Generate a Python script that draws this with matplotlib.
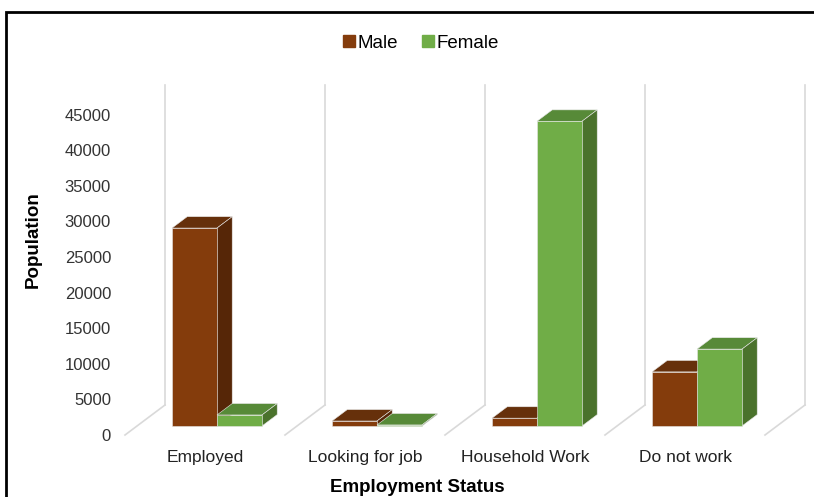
import matplotlib
matplotlib.use("Agg")
import matplotlib.pyplot as plt
from matplotlib.patches import Polygon, Rectangle
from matplotlib.lines import Line2D

plt.rcParams['font.family'] = ['Liberation Sans', 'DejaVu Sans']

# data
categories = ['Employed', 'Looking for job', 'Household Work', 'Do not work']
male = [27800, 700, 1100, 7600]
female = [1550, 150, 42800, 10800]
series_names = ['Male', 'Female']
yticks = list(range(0, 45001, 5000))

# colours: front, top, side
male_col = ('#843C0C', '#66300B', '#562607')
female_col = ('#70AD47', '#578A38', '#4A722C')
grid_col = '#D9D9D9'

# fake 3d: full floor depth in data units
DX = 0.25
DY = 4213
d0 = 0.3     # depth of bar front face
bd = 0.38    # bar depth
group_w = 0.5625
bar_w = group_w / 2

fig = plt.figure(figsize=(8.14, 4.97), dpi=100)
ax = fig.add_axes([118 / 814, 57 / 497, 692 / 814, 365 / 497])
ax.set_xlim(-0.54375, 3.78125)
ax.set_ylim(-702, 50562)

# back wall lines and floor diagonals
for k in range(len(categories) + 1):
    x = k - 0.5
    ax.plot([x, x + DX], [0, DY], color=grid_col, lw=1.2, zorder=1)
    ax.plot([x + DX, x + DX], [DY, DY + yticks[-1]], color=grid_col, lw=1.2, zorder=1)

base = d0 * DY
for i in range(len(categories)):
    for j, (vals, col) in enumerate([(male, male_col), (female, female_col)]):
        v = vals[i]
        x0 = i - group_w / 2 + j * bar_w + d0 * DX
        ox, oy = bd * DX, bd * DY
        zo = 2 + i * 3 + j
        ax.bar(x0, v, width=bar_w, bottom=base, align='edge', color=col[0],
               edgecolor='#E6E6E6', linewidth=0.4, zorder=zo + 0.2)
        top = [(x0, base + v), (x0 + bar_w, base + v),
               (x0 + bar_w + ox, base + v + oy), (x0 + ox, base + v + oy)]
        side = [(x0 + bar_w, base), (x0 + bar_w + ox, base + oy),
                (x0 + bar_w + ox, base + v + oy), (x0 + bar_w, base + v)]
        ax.add_patch(Polygon(top, closed=True, facecolor=col[1],
                             edgecolor='#E6E6E6', linewidth=0.4, zorder=zo))
        ax.add_patch(Polygon(side, closed=True, facecolor=col[2],
                             edgecolor='#E6E6E6', linewidth=0.4, zorder=zo))

ax.set_xticks(range(len(categories)))
ax.set_xticklabels(categories, fontsize=12.5, color='#222222')
ax.set_yticks(yticks)
ax.set_yticklabels([str(t) for t in yticks], fontsize=12, color='#333333')
ax.tick_params(length=0, axis='x', pad=7)
ax.tick_params(length=0, axis='y', pad=5)
for s in ax.spines.values():
    s.set_visible(False)

fig.text(417 / 814, 1 - 487 / 497, 'Employment Status', ha='center', va='center',
         fontsize=13.5, fontweight='bold')
fig.text(33 / 814, 1 - 240 / 497, 'Population', ha='center', va='center',
         rotation=90, fontsize=13.5, fontweight='bold')

handles = [Line2D([], [], marker='s', ls='', color=male_col[0], markersize=8),
           Line2D([], [], marker='s', ls='', color=female_col[0], markersize=8)]
fig.legend(handles, series_names, loc='center', bbox_to_anchor=(420 / 814, 1 - 43 / 497),
           ncol=2, frameon=False, fontsize=13.5, handletextpad=0.05, columnspacing=1.2,
           handlelength=0.8)

# chart border
fig.patches.append(Rectangle((6 / 814, -0.05), 1.0, 1 - 12 / 497 + 0.05,
                             transform=fig.transFigure, fill=False,
                             edgecolor='black', linewidth=2))

fig.savefig('out.png', dpi=100, facecolor='white')
